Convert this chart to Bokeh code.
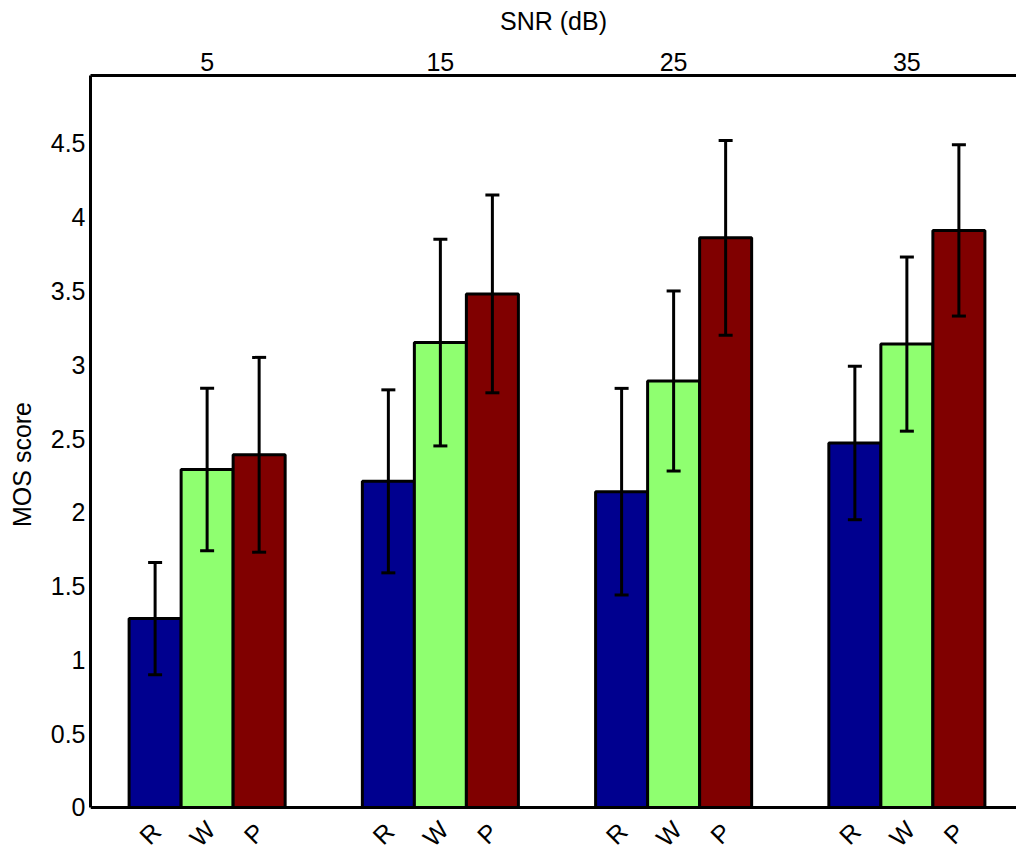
import math
from bokeh.plotting import figure
from bokeh.models import (ColumnDataSource, LinearAxis, FixedTicker, CustomJSTickFormatter,
                          Whisker, TeeHead, Range1d, Span)
from bokeh.core.properties import value
from bokeh.embed import file_html
from bokeh.resources import INLINE

# ---- data ----
snr_labels = ["5", "15", "25", "35"]
series_names = ["R", "W", "P"]
series_colors = ["#00008F", "#8FFF70", "#800000"]
mean_R = [1.28, 2.21, 2.14, 2.47]
mean_W = [2.29, 3.15, 2.89, 3.14]
mean_P = [2.39, 3.48, 3.86, 3.91]
err_R = [0.38, 0.62, 0.70, 0.52]
err_W = [0.55, 0.70, 0.61, 0.59]
err_P = [0.66, 0.67, 0.66, 0.58]
y_ticks = [0, 0.5, 1, 1.5, 2, 2.5, 3, 3.5, 4, 4.5]

means = [mean_R, mean_W, mean_P]
errs = [err_R, err_W, err_P]

bar_w = 0.223
offsets = [-bar_w, 0.0, bar_w]
group_x = [i + 1 for i in range(len(snr_labels))]

FONT = "Liberation Sans"
FS = "25px"
Y_TOP = 4.96

# the frame reaches to the bottom of the page so that the rotated series
# labels under the bars can be drawn as text glyphs
p = figure(width=1016, height=853, output_backend="svg", toolbar_location=None,
           x_axis_type=None, y_axis_type=None,
           x_range=Range1d(0.5, 4.47), y_range=Range1d(-0.3117, Y_TOP),
           min_border_left=90, min_border_top=75, min_border_bottom=0, min_border_right=0)
p.outline_line_color = None
p.xgrid.visible = False
p.ygrid.visible = False
p.background_fill_color = "white"
p.border_fill_color = "white"

for k in range(3):
    src = ColumnDataSource(dict(
        x=[g + offsets[k] for g in group_x],
        top=means[k],
        upper=[m + e for m, e in zip(means[k], errs[k])],
        lower=[m - e for m, e in zip(means[k], errs[k])],
    ))
    p.vbar(x="x", top="top", bottom=0, width=bar_w, source=src,
           fill_color=series_colors[k], line_color="black", line_width=3)
    w = Whisker(base="x", upper="upper", lower="lower", source=src,
                line_color="black", line_width=3, level="annotation",
                upper_head=TeeHead(size=14, line_width=3, line_color="black"),
                lower_head=TeeHead(size=14, line_width=3, line_color="black"))
    p.add_layout(w)

# bottom spine at MOS = 0
p.add_layout(Span(location=0, dimension="width", line_color="black", line_width=3,
                  level="annotation"))

def style_axis(ax):
    ax.axis_line_width = 3
    ax.axis_line_color = "black"
    ax.major_tick_line_color = None
    ax.minor_tick_line_color = None
    ax.major_tick_out = 0
    ax.major_tick_in = 0
    ax.major_label_text_font = FONT
    ax.major_label_text_font_size = FS
    ax.major_label_text_color = "black"
    ax.axis_label_text_font = FONT
    ax.axis_label_text_font_size = FS
    ax.axis_label_text_font_style = "normal"
    ax.axis_label_text_color = "black"

# left axis
yax = LinearAxis(ticker=FixedTicker(ticks=y_ticks),
                 formatter=CustomJSTickFormatter(code="return tick.toString();"),
                 axis_label="MOS score", bounds=(0, Y_TOP))
style_axis(yax)
yax.major_label_standoff = 5
yax.axis_label_standoff = 12
p.add_layout(yax, "left")

# top axis
tax = LinearAxis(ticker=FixedTicker(ticks=group_x),
                 formatter=CustomJSTickFormatter(args=dict(labels=snr_labels),
                                                 code="return labels[Math.round(tick)-1];"),
                 axis_label="SNR (dB)")
style_axis(tax)
tax.major_label_standoff = 5
tax.axis_label_standoff = 15
p.add_layout(tax, "above")

# rotated series labels under each bar
lab_src = ColumnDataSource(dict(
    x=[g + o for g in group_x for o in offsets],
    y=[0.0 for g in group_x for o in offsets],
    text=[n for g in group_x for n in series_names],
))
p.text(x="x", y="y", text="text", source=lab_src,
       angle=45, angle_units="deg", x_offset=-5, y_offset=26,
       text_align="center", text_baseline="middle",
       text_font=value(FONT), text_font_size=value(FS), text_color="black")

open("out.html", "w").write(file_html(p, INLINE))
